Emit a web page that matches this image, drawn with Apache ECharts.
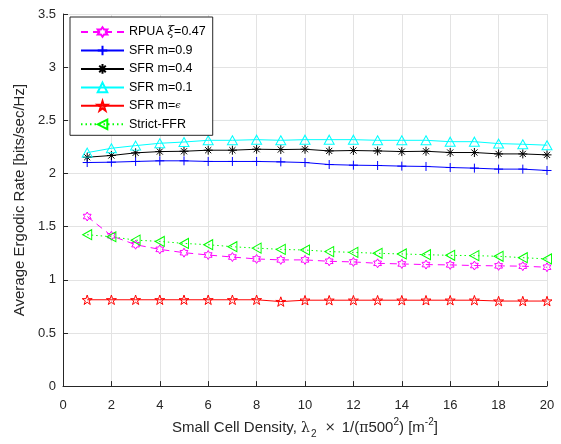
<!DOCTYPE html>
<html>
<head>
<meta charset="utf-8">
<script src="https://cdn.jsdelivr.net/npm/echarts@6/dist/echarts.min.js"></script>
<style>
  html, body { margin: 0; padding: 0; background: #fff; }
  #chart { width: 561px; height: 444px; }
</style>
</head>
<body>
<div id="chart"></div>
<script>
// Small cell density (x axis)
var density = [1, 2, 3, 4, 5, 6, 7, 8, 9, 10, 11, 12, 13, 14, 15, 16, 17, 18, 19, 20];

// Average ergodic rate per scheme [bits/sec/Hz]
var rpua   = [1.595, 1.414, 1.330, 1.286, 1.255, 1.233, 1.214, 1.196, 1.187, 1.187,
              1.174, 1.168, 1.155, 1.149, 1.143, 1.140, 1.134, 1.131, 1.128, 1.118];
var sfr09  = [2.103, 2.106, 2.113, 2.119, 2.119, 2.113, 2.113, 2.113, 2.109, 2.103,
              2.084, 2.078, 2.075, 2.069, 2.066, 2.056, 2.050, 2.041, 2.041, 2.028];
var sfr04  = [2.153, 2.169, 2.194, 2.206, 2.209, 2.219, 2.219, 2.228, 2.225, 2.228,
              2.212, 2.216, 2.212, 2.206, 2.209, 2.197, 2.197, 2.184, 2.184, 2.175];
var sfr01  = [2.196, 2.237, 2.262, 2.284, 2.296, 2.312, 2.312, 2.318, 2.312, 2.318,
              2.318, 2.318, 2.312, 2.312, 2.312, 2.299, 2.299, 2.281, 2.275, 2.266];
var sfrEps = [0.812, 0.812, 0.812, 0.812, 0.812, 0.812, 0.812, 0.812, 0.795, 0.808,
              0.808, 0.808, 0.808, 0.808, 0.808, 0.808, 0.808, 0.800, 0.800, 0.800];
var strictFfr = [1.424, 1.405, 1.373, 1.361, 1.342, 1.330, 1.311, 1.298, 1.286, 1.280,
                 1.265, 1.258, 1.249, 1.243, 1.236, 1.230, 1.227, 1.221, 1.208, 1.196];

var seriesNames = ['RPUA ξ=0.47', 'SFR m=0.9', 'SFR m=0.4', 'SFR m=0.1', 'SFR m=ϵ', 'Strict-FFR'];

// Marker outlines (stroked paths)
var HEXAGRAM = 'path://M5,0L6.443,2.5L9.33,2.5L7.887,5L9.33,7.5L6.443,7.5L5,10L3.557,7.5L0.67,7.5L2.113,5L0.67,2.5L3.557,2.5Z';
var PENTAGRAM = 'path://M5,0L6.123,3.455L9.755,3.455L6.817,5.59L7.939,9.045L5,6.91L2.061,9.045L3.183,5.59L0.245,3.455L3.877,3.455Z';
var PLUS = 'path://M5,0L5,10M0,5L10,5';
var ASTERISK = 'path://M5,0L5,10M0,5L10,5M1.6,1.6L8.4,8.4M8.4,1.6L1.6,8.4';

var FONT = '"Liberation Sans", Arial, Helvetica, sans-serif';
var MATH = '"DejaVu Serif", serif';
var TXT = '#262626';

function pairs(ys) {
  return density.map(function (x, i) { return [x, ys[i]]; });
}

function makeSeries(name, ys, color, symbol, size, dash, extra) {
  var s = {
    name: name,
    type: 'line',
    data: pairs(ys),
    symbol: symbol,
    symbolSize: size,
    symbolKeepAspect: true,
    showAllSymbol: true,
    lineStyle: { color: color, width: 1, type: dash },
    itemStyle: { color: 'rgba(255,255,255,0)', borderColor: color, borderWidth: 1 },
    emphasis: { disabled: true },
    animation: false
  };
  if (extra) { for (var k in extra) s[k] = extra[k]; }
  return s;
}

var chart = echarts.init(document.getElementById('chart'), null, { renderer: 'canvas' });

chart.setOption({
  backgroundColor: '#ffffff',
  textStyle: { fontFamily: FONT },
  grid: { left: 63, right: 14, top: 14, bottom: 55, containLabel: false },
  legend: {
    orient: 'vertical',
    left: 70,
    top: 17,
    padding: [8, 7, 4, 10],
    itemWidth: 43,
    itemHeight: 12,
    itemGap: 4.46,
    backgroundColor: '#ffffff',
    borderColor: '#262626',
    borderWidth: 1,
    selectedMode: false,
    data: seriesNames,
    textStyle: {
      fontFamily: FONT, fontSize: 12.5, color: '#000', lineHeight: 14,
      rich: {
        i: { fontFamily: MATH, fontStyle: 'italic', fontSize: 12.5, color: '#000', lineHeight: 14 },
        e: { fontFamily: MATH, fontStyle: 'italic', fontSize: 9.5, color: '#000', lineHeight: 14 }
      }
    },
    formatter: function (name) {
      return name.replace('ξ', '{i|ξ}').replace('ϵ', '{e|ϵ}');
    }
  },
  xAxis: {
    type: 'value',
    min: 0, max: 20, interval: 2,
    name: 'Small Cell Density, {m|λ}{sub|2} {x|×} 1/({m|π}500{sup|2}) [m{sup|-2}]',
    nameLocation: 'middle',
    nameGap: 30,
    nameTextStyle: {
      fontFamily: FONT, fontSize: 15, color: TXT, lineHeight: 22,
      rich: {
        m: { fontFamily: MATH, fontSize: 14, color: TXT, lineHeight: 22 },
        x: { fontFamily: MATH, fontSize: 13, color: TXT, lineHeight: 22, padding: [0, 2, 0, 2] },
        sub: { fontSize: 10, color: TXT, lineHeight: 10, verticalAlign: 'bottom', padding: [0, 2, 0, 1] },
        sup: { fontSize: 10, color: TXT, lineHeight: 14, verticalAlign: 'top' }
      }
    },
    axisLine: { show: true, onZero: false, lineStyle: { color: TXT, width: 1 } },
    axisTick: { show: true, inside: true, length: 5, lineStyle: { color: TXT } },
    axisLabel: { fontFamily: FONT, fontSize: 13, color: TXT, margin: 13 },
    splitLine: { show: true, lineStyle: { color: '#e3e3e3', width: 1 } }
  },
  yAxis: {
    type: 'value',
    min: 0, max: 3.5, interval: 0.5,
    name: 'Average Ergodic Rate [bits/sec/Hz]',
    nameLocation: 'middle',
    nameGap: 25,
    nameTextStyle: { fontFamily: FONT, fontSize: 15, color: TXT },
    axisLine: { show: true, onZero: false, lineStyle: { color: TXT, width: 1 } },
    axisTick: { show: true, inside: true, length: 5, lineStyle: { color: TXT } },
    axisLabel: { fontFamily: FONT, fontSize: 13, color: TXT, margin: 7 },
    splitLine: { show: true, lineStyle: { color: '#e3e3e3', width: 1 } }
  },
  series: [
    makeSeries(seriesNames[0], rpua, '#ff00ff', HEXAGRAM, 9, [7, 5]),
    makeSeries(seriesNames[1], sfr09, '#0000ff', PLUS, 9, 'solid'),
    makeSeries(seriesNames[2], sfr04, '#000000', ASTERISK, 9, 'solid'),
    makeSeries(seriesNames[3], sfr01, '#00ffff', 'triangle', [10, 9], 'solid'),
    makeSeries(seriesNames[4], sfrEps, '#ff0000', PENTAGRAM, 10, 'solid'),
    makeSeries(seriesNames[5], strictFfr, '#00ff00', 'triangle', [10, 9], [1.5, 3], { symbolRotate: 90 })
  ]
});
</script>
</body>
</html>
